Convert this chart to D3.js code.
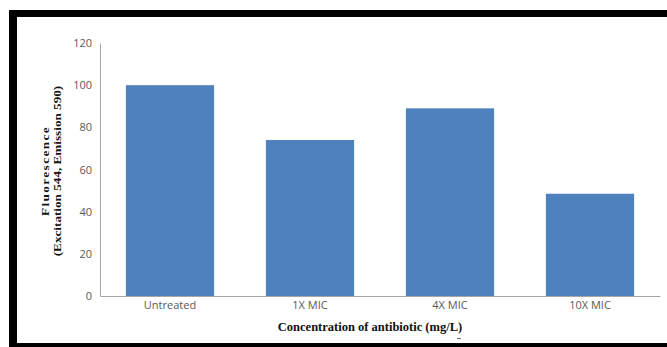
<!DOCTYPE html>
<html><head><meta charset="utf-8">
<script src="https://cdn.jsdelivr.net/npm/d3@7"></script>
<style>html,body{margin:0;padding:0;background:#fff;}svg{display:block;}</style>
</head><body>
<svg id="c" width="667" height="347"></svg>
<script>
const categories = ["Untreated", "1X MIC", "4X MIC", "10X MIC"];
const values = [100, 74, 89, 48.5];
const yTicks = [0, 20, 40, 60, 80, 100, 120];
const xTitle = "Concentration of antibiotic (mg/L)";
const yTitle = ["Fluorescence", "(Excitation 544, Emission 590)"];

(function () {
const svg = d3.select("#c");
// frame
svg.append("rect").attr("x", 9).attr("y", 10).attr("width", 658).attr("height", 7).attr("fill", "#000");
svg.append("rect").attr("x", 9).attr("y", 10).attr("width", 8).attr("height", 337).attr("fill", "#000");
svg.append("rect").attr("x", 9).attr("y", 343).attr("width", 658).attr("height", 4).attr("fill", "#000");
svg.append("rect").attr("x", 457).attr("y", 338).attr("width", 4).attr("height", 1).attr("fill", "#666");

const mL = 100, mR = 660, mT = 43, mB = 296;
const x = d3.scaleBand().domain(categories).range([mL, mR]).paddingInner(0.37).paddingOuter(0.185);
const y = d3.scaleLinear().domain([0, 120]).range([mB, mT]);

svg.append("g").selectAll("rect").data(values).join("rect")
  .attr("x", (d, i) => x(categories[i]))
  .attr("y", d => y(d))
  .attr("width", x.bandwidth())
  .attr("height", d => y(0) - y(d))
  .attr("fill", "#4f81bd");

const yAxis = svg.append("g").attr("transform", `translate(${mL},0)`)
  .call(d3.axisLeft(y).tickValues(yTicks).tickSize(0).tickPadding(8));
yAxis.select(".domain").attr("stroke", "#a6a6a6");
yAxis.selectAll("text").attr("font-family", "Open Sans, sans-serif").attr("font-size", 11).attr("fill", "#595959");

const xAxis = svg.append("g").attr("transform", `translate(0,${mB})`)
  .call(d3.axisBottom(x).tickSize(0).tickPadding(5));
xAxis.select(".domain").attr("stroke", "#a6a6a6");
xAxis.selectAll("text").attr("font-family", "Open Sans, sans-serif").attr("font-size", 11).attr("fill", "#595959");

svg.append("text").attr("x", 370).attr("y", 331).attr("text-anchor", "middle")
  .attr("font-family", "Liberation Serif, Times New Roman, serif").attr("font-weight", "bold")
  .attr("font-size", 12.5).attr("fill", "#111").text(xTitle);

const yt = svg.append("text").attr("transform", "translate(49,171) rotate(-90) scale(1.2,1)")
  .attr("text-anchor", "middle").attr("font-family", "Liberation Serif, Times New Roman, serif")
  .attr("font-weight", "bold").attr("font-size", 11).attr("fill", "#111");
yTitle.forEach((t, i) => yt.append("tspan").attr("x", 0).attr("dy", i === 0 ? 0 : 12.5)
  .attr("letter-spacing", i === 0 ? 1.2 : 0).text(t));
})();
</script>
</body></html>
